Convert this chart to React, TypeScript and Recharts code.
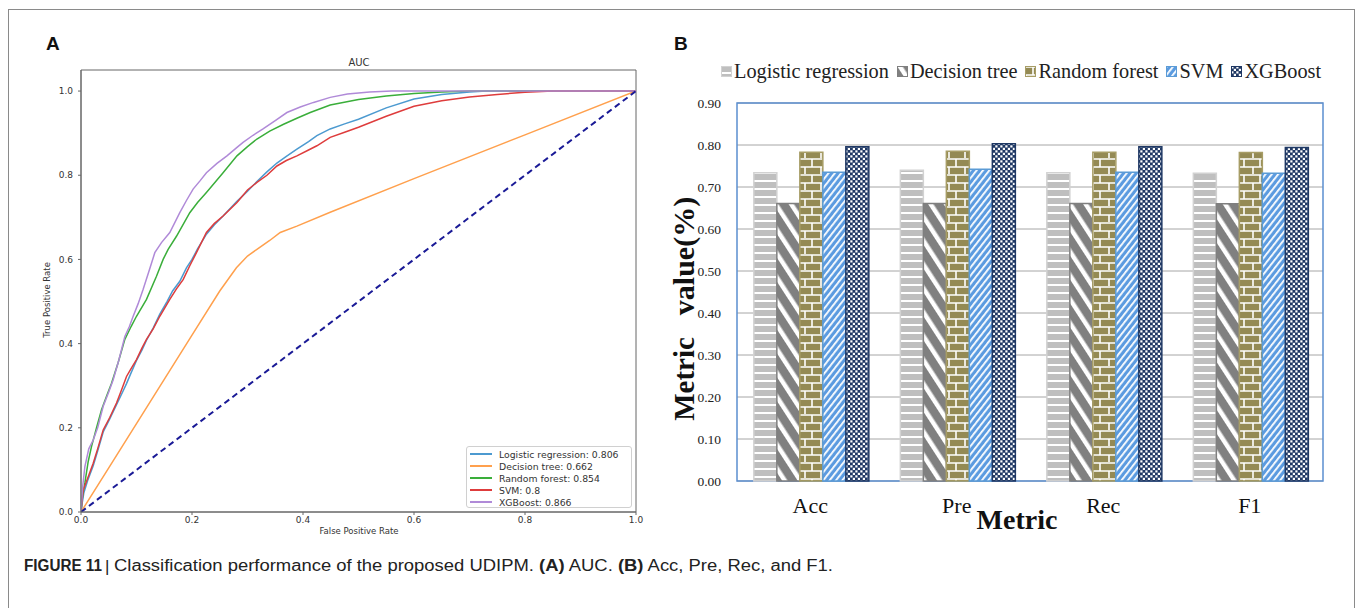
import React from 'react';
import { LineChart, Line, XAxis, YAxis, ReferenceArea, Legend, BarChart, Bar, CartesianGrid } from 'recharts';

// ---------- Panel A: ROC curves (fpr, tpr) ----------
const rocLogistic = [
  { fpr: 0, tpr: 0 }, { fpr: 0.002, tpr: 0.02 }, { fpr: 0.005, tpr: 0.045 }, { fpr: 0.012, tpr: 0.075 },
  { fpr: 0.022, tpr: 0.11 }, { fpr: 0.03, tpr: 0.145 }, { fpr: 0.04, tpr: 0.19 }, { fpr: 0.052, tpr: 0.222 },
  { fpr: 0.064, tpr: 0.255 }, { fpr: 0.075, tpr: 0.285 }, { fpr: 0.082, tpr: 0.305 }, { fpr: 0.09, tpr: 0.33 },
  { fpr: 0.1, tpr: 0.36 }, { fpr: 0.11, tpr: 0.385 }, { fpr: 0.118, tpr: 0.408 }, { fpr: 0.13, tpr: 0.437 },
  { fpr: 0.142, tpr: 0.47 }, { fpr: 0.155, tpr: 0.5 }, { fpr: 0.165, tpr: 0.525 }, { fpr: 0.178, tpr: 0.548 },
  { fpr: 0.19, tpr: 0.58 }, { fpr: 0.2, tpr: 0.6 }, { fpr: 0.21, tpr: 0.625 }, { fpr: 0.226, tpr: 0.66 },
  { fpr: 0.24, tpr: 0.682 }, { fpr: 0.256, tpr: 0.703 }, { fpr: 0.281, tpr: 0.738 }, { fpr: 0.3, tpr: 0.762 },
  { fpr: 0.317, tpr: 0.785 }, { fpr: 0.335, tpr: 0.808 }, { fpr: 0.353, tpr: 0.829 }, { fpr: 0.37, tpr: 0.845 },
  { fpr: 0.389, tpr: 0.862 }, { fpr: 0.41, tpr: 0.88 }, { fpr: 0.425, tpr: 0.894 }, { fpr: 0.449, tpr: 0.91 },
  { fpr: 0.475, tpr: 0.922 }, { fpr: 0.5, tpr: 0.933 }, { fpr: 0.55, tpr: 0.96 }, { fpr: 0.6, tpr: 0.981 },
  { fpr: 0.65, tpr: 0.992 }, { fpr: 0.7, tpr: 0.998 }, { fpr: 0.73, tpr: 1.0 }, { fpr: 1, tpr: 1 },
];
const rocTree = [
  { fpr: 0, tpr: 0 }, { fpr: 0.05, tpr: 0.105 }, { fpr: 0.1, tpr: 0.21 }, { fpr: 0.15, tpr: 0.315 },
  { fpr: 0.2, tpr: 0.42 }, { fpr: 0.25, tpr: 0.525 }, { fpr: 0.28, tpr: 0.58 }, { fpr: 0.3, tpr: 0.608 },
  { fpr: 0.317, tpr: 0.624 }, { fpr: 0.34, tpr: 0.645 }, { fpr: 0.359, tpr: 0.664 }, { fpr: 0.389, tpr: 0.679 },
  { fpr: 0.449, tpr: 0.712 }, { fpr: 0.6, tpr: 0.792 }, { fpr: 0.8, tpr: 0.896 }, { fpr: 1, tpr: 1 },
];
const rocForest = [
  { fpr: 0, tpr: 0 }, { fpr: 0.003, tpr: 0.04 }, { fpr: 0.007, tpr: 0.069 }, { fpr: 0.013, tpr: 0.12 },
  { fpr: 0.019, tpr: 0.156 }, { fpr: 0.028, tpr: 0.2 }, { fpr: 0.037, tpr: 0.243 }, { fpr: 0.046, tpr: 0.275 },
  { fpr: 0.055, tpr: 0.306 }, { fpr: 0.067, tpr: 0.355 }, { fpr: 0.079, tpr: 0.41 }, { fpr: 0.09, tpr: 0.44 },
  { fpr: 0.1, tpr: 0.465 }, { fpr: 0.118, tpr: 0.505 }, { fpr: 0.136, tpr: 0.56 }, { fpr: 0.148, tpr: 0.6 },
  { fpr: 0.157, tpr: 0.624 }, { fpr: 0.172, tpr: 0.655 }, { fpr: 0.196, tpr: 0.711 }, { fpr: 0.21, tpr: 0.735 },
  { fpr: 0.226, tpr: 0.759 }, { fpr: 0.256, tpr: 0.806 }, { fpr: 0.281, tpr: 0.846 }, { fpr: 0.3, tpr: 0.868 },
  { fpr: 0.317, tpr: 0.886 }, { fpr: 0.34, tpr: 0.905 }, { fpr: 0.365, tpr: 0.921 }, { fpr: 0.39, tpr: 0.936 },
  { fpr: 0.413, tpr: 0.949 }, { fpr: 0.449, tpr: 0.967 }, { fpr: 0.5, tpr: 0.98 }, { fpr: 0.55, tpr: 0.988 },
  { fpr: 0.6, tpr: 0.994 }, { fpr: 0.65, tpr: 0.998 }, { fpr: 0.7, tpr: 1.0 }, { fpr: 1, tpr: 1 },
];
const rocSvm = [
  { fpr: 0, tpr: 0 }, { fpr: 0.002, tpr: 0.03 }, { fpr: 0.004, tpr: 0.052 }, { fpr: 0.012, tpr: 0.08 },
  { fpr: 0.022, tpr: 0.116 }, { fpr: 0.03, tpr: 0.15 }, { fpr: 0.04, tpr: 0.195 }, { fpr: 0.052, tpr: 0.225 },
  { fpr: 0.064, tpr: 0.259 }, { fpr: 0.073, tpr: 0.29 }, { fpr: 0.082, tpr: 0.322 }, { fpr: 0.09, tpr: 0.34 },
  { fpr: 0.1, tpr: 0.362 }, { fpr: 0.11, tpr: 0.39 }, { fpr: 0.118, tpr: 0.41 }, { fpr: 0.13, tpr: 0.435 },
  { fpr: 0.142, tpr: 0.465 }, { fpr: 0.16, tpr: 0.505 }, { fpr: 0.172, tpr: 0.53 }, { fpr: 0.184, tpr: 0.552 },
  { fpr: 0.196, tpr: 0.585 }, { fpr: 0.208, tpr: 0.616 }, { fpr: 0.226, tpr: 0.664 }, { fpr: 0.24, tpr: 0.685 },
  { fpr: 0.256, tpr: 0.703 }, { fpr: 0.281, tpr: 0.735 }, { fpr: 0.3, tpr: 0.765 }, { fpr: 0.317, tpr: 0.783 },
  { fpr: 0.335, tpr: 0.8 }, { fpr: 0.353, tpr: 0.822 }, { fpr: 0.37, tpr: 0.835 }, { fpr: 0.389, tpr: 0.846 },
  { fpr: 0.41, tpr: 0.86 }, { fpr: 0.425, tpr: 0.87 }, { fpr: 0.449, tpr: 0.89 }, { fpr: 0.475, tpr: 0.902 },
  { fpr: 0.5, tpr: 0.914 }, { fpr: 0.55, tpr: 0.94 }, { fpr: 0.6, tpr: 0.964 }, { fpr: 0.65, tpr: 0.977 },
  { fpr: 0.7, tpr: 0.986 }, { fpr: 0.75, tpr: 0.992 }, { fpr: 0.8, tpr: 0.997 }, { fpr: 0.85, tpr: 1.0 },
  { fpr: 1, tpr: 1 },
];
const rocXgb = [
  { fpr: 0, tpr: 0 }, { fpr: 0.003, tpr: 0.06 }, { fpr: 0.007, tpr: 0.108 }, { fpr: 0.014, tpr: 0.15 },
  { fpr: 0.022, tpr: 0.171 }, { fpr: 0.03, tpr: 0.2 }, { fpr: 0.04, tpr: 0.251 }, { fpr: 0.05, tpr: 0.285 },
  { fpr: 0.058, tpr: 0.314 }, { fpr: 0.068, tpr: 0.36 }, { fpr: 0.079, tpr: 0.417 }, { fpr: 0.087, tpr: 0.44 },
  { fpr: 0.094, tpr: 0.465 }, { fpr: 0.103, tpr: 0.495 }, { fpr: 0.112, tpr: 0.529 }, { fpr: 0.122, tpr: 0.57 },
  { fpr: 0.133, tpr: 0.616 }, { fpr: 0.145, tpr: 0.64 }, { fpr: 0.16, tpr: 0.664 }, { fpr: 0.178, tpr: 0.711 },
  { fpr: 0.19, tpr: 0.74 }, { fpr: 0.202, tpr: 0.767 }, { fpr: 0.214, tpr: 0.786 }, { fpr: 0.226, tpr: 0.806 },
  { fpr: 0.245, tpr: 0.828 }, { fpr: 0.263, tpr: 0.846 }, { fpr: 0.28, tpr: 0.865 }, { fpr: 0.292, tpr: 0.878 },
  { fpr: 0.31, tpr: 0.895 }, { fpr: 0.328, tpr: 0.91 }, { fpr: 0.35, tpr: 0.93 }, { fpr: 0.371, tpr: 0.949 },
  { fpr: 0.395, tpr: 0.962 }, { fpr: 0.419, tpr: 0.973 }, { fpr: 0.449, tpr: 0.985 }, { fpr: 0.48, tpr: 0.993 },
  { fpr: 0.52, tpr: 0.998 }, { fpr: 0.56, tpr: 1.0 }, { fpr: 1, tpr: 1 },
];
const rocChance = [{ fpr: 0, tpr: 0 }, { fpr: 1, tpr: 1 }];
const rocTicks = [0, 0.2, 0.4, 0.6, 0.8, 1.0];
const rocLabels = ['Logistic regression: 0.806', 'Decision tree: 0.662', 'Random forest: 0.854', 'SVM: 0.8', 'XGBoost: 0.866'];

// ---------- Panel B: metric bars ----------
const metrics = ['Acc', 'Pre', 'Rec', 'F1'];
const logisticVals = [0.734, 0.740, 0.734, 0.733];
const treeVals = [0.661, 0.661, 0.661, 0.660];
const forestVals = [0.783, 0.785, 0.783, 0.782];
const svmVals = [0.735, 0.742, 0.735, 0.733];
const xgbVals = [0.796, 0.803, 0.796, 0.794];
const metricTicks = [0, 0.1, 0.2, 0.3, 0.4, 0.5, 0.6, 0.7, 0.8, 0.9];
const modelNames = ['Logistic regression', 'Decision tree', 'Random forest', 'SVM', 'XGBoost'];

const rocColors = ['#4c9ad0', '#ffa04d', '#3aae3a', '#de3c3c', '#b08ad8'];
const rocSeries = [rocLogistic, rocTree, rocForest, rocSvm, rocXgb].map((d, i) => ({
  data: d, name: rocLabels[i], color: rocColors[i], key: 'roc' + i,
}));

const barKeys = ['lr', 'dt', 'rf', 'svm', 'xgb'];
const barData = metrics.map((m, i) => ({
  metric: m, lr: logisticVals[i], dt: treeVals[i], rf: forestVals[i], svm: svmVals[i], xgb: xgbVals[i],
}));
const barFills = ['url(#patLR)', 'url(#patDT)', 'url(#patRF)', 'url(#patSVM)', 'url(#patXGB)'];
const barStrokes = ['#d2d2d2', '#7f7f7f', '#a79d66', '#5b9bd5', '#1f3864'];

const RocLegend = () => (
  <div style={{
    width: 166, height: 62, boxSizing: 'border-box', border: '1px solid #d0d0d0', borderRadius: 3,
    background: 'rgba(255,255,255,0.85)', paddingTop: 1, fontFamily: 'DejaVu Sans', fontSize: 9.3, color: '#333',
  }}>
    {rocSeries.map((s) => (
      <div key={s.key} style={{ display: 'flex', alignItems: 'center', height: 12 }}>
        <div style={{ width: 22, height: 1.5, background: s.color, marginLeft: 3, marginRight: 7 }} />
        <span style={{ whiteSpace: 'nowrap' }}>{s.name}</span>
      </div>
    ))}
  </div>
);

const BarLegend = () => (
  <div style={{ display: 'flex', alignItems: 'center', fontFamily: '"Liberation Serif", "Times New Roman", serif', fontSize: 20.3, color: '#222', whiteSpace: 'nowrap' }}>
    {modelNames.map((n, i) => (
      <div key={n} style={{ display: 'flex', alignItems: 'center', marginRight: 8 }}>
        <svg width={11} height={11} style={{ marginRight: 2 }}>
          <rect x={0.5} y={0.5} width={10} height={10} fill={barFills[i]} stroke={barStrokes[i]} strokeWidth={1} />
        </svg>
        <span>{n}</span>
      </div>
    ))}
  </div>
);

const Patterns = () => (
  <svg width={0} height={0} style={{ position: 'absolute', left: 0, top: 0 }}>
    <defs>
      <pattern id="patLR" patternUnits="userSpaceOnUse" width={8} height={8}>
        <rect width={8} height={8} fill="#bfbfbf" />
        <rect y={6} width={8} height={2} fill="#ffffff" />
      </pattern>
      <pattern id="patDT" patternUnits="userSpaceOnUse" width={13} height={13} patternTransform="rotate(-33)">
        <rect width={13} height={13} fill="#808080" />
        <rect width={4.5} height={13} fill="#ffffff" />
      </pattern>
      <pattern id="patRF" patternUnits="userSpaceOnUse" width={16} height={16}>
        <rect width={16} height={16} fill="#948a54" />
        <path d="M0 1 H16 M0 9 H16 M8 1 V9 M1 9 V16" stroke="#ffffff" strokeWidth={1.6} />
      </pattern>
      <pattern id="patSVM" patternUnits="userSpaceOnUse" width={5} height={5} patternTransform="rotate(38)">
        <rect width={5} height={5} fill="#5b9be0" />
        <rect width={1.8} height={5} fill="#ffffff" />
      </pattern>
      <pattern id="patXGB" patternUnits="userSpaceOnUse" width={5} height={5}>
        <rect width={5} height={5} fill="#1f3864" />
        <rect x={0.3} y={0.3} width={2.2} height={2.2} fill="#ffffff" />
        <rect x={2.8} y={2.8} width={2.2} height={2.2} fill="#ffffff" />
      </pattern>
    </defs>
  </svg>
);

const serif = '"Liberation Serif", "Times New Roman", serif';

export default function App() {
  return (
    <div style={{ position: 'absolute', left: 0, top: 0, width: 1357, height: 608, overflow: 'hidden', background: '#ffffff' }}>
      <Patterns />
      <div style={{ position: 'absolute', left: 8, top: 9, width: 1347, height: 700, boxSizing: 'border-box', border: '1.5px solid #8a8a8a' }} />

      {/* Panel A */}
      <div style={{ position: 'absolute', left: 0, top: 0 }}>
        <LineChart width={680} height={560} margin={{ top: 70, left: 51, right: 44, bottom: 28 }}>
          <XAxis type="number" dataKey="fpr" domain={[0, 1]} ticks={rocTicks} allowDataOverflow
            tickFormatter={(v: number) => v.toFixed(1)} height={20} tickSize={3} tickMargin={2}
            stroke="#666" tick={{ fontSize: 9, fill: '#333', fontFamily: 'DejaVu Sans' }} />
          <YAxis type="number" dataKey="tpr" domain={[0, 1.05]} ticks={rocTicks} allowDataOverflow
            tickFormatter={(v: number) => v.toFixed(1)} width={30} tickSize={3} tickMargin={5}
            stroke="#666" tick={{ fontSize: 9, fill: '#333', fontFamily: 'DejaVu Sans' }} />
          <ReferenceArea x1={0} x2={1} y1={0} y2={1.05} fill="none" stroke="#666" strokeWidth={1} ifOverflow="visible" />
          {rocSeries.map((s) => (
            <Line key={s.key} data={s.data} dataKey="tpr" name={s.name} type="linear" stroke={s.color}
              strokeWidth={1.5} dot={false} activeDot={false} isAnimationActive={false} />
          ))}
          <Line data={rocChance} dataKey="tpr" name="chance" type="linear" stroke="#1a1a96" strokeWidth={2}
            strokeDasharray="6 4" dot={false} activeDot={false} isAnimationActive={false} legendType="none" />
          <Legend layout="horizontal" verticalAlign="middle" align="center" content={<RocLegend />}
            wrapperStyle={{ left: 466, top: 446, width: 166, height: 62 }} />
        </LineChart>
      </div>

      {/* Panel B */}
      <div style={{ position: 'absolute', left: 660, top: 30 }}>
        <BarChart width={690} height={510} data={barData} margin={{ top: 73, right: 27, bottom: 19, left: 37 }}
          barCategoryGap="11.5%" barGap={0}>
          <CartesianGrid vertical={false} stroke="#a6a6a6" strokeWidth={1} />
          <XAxis dataKey="metric" height={40} axisLine={false} tickLine={false} tickSize={0} tickMargin={16}
            tick={{ fontSize: 22, fill: '#111', fontFamily: serif }} />
          <YAxis domain={[0, 0.9]} ticks={metricTicks} width={40} axisLine={false} tickLine={false}
            tickSize={6} tickMargin={10} tickFormatter={(v: number) => v.toFixed(2)}
            tick={{ fontSize: 13.5, fill: '#222', fontFamily: serif }} />
          {barKeys.map((k, i) => (
            <Bar key={k} dataKey={k} name={modelNames[i]} fill={barFills[i]} stroke={barStrokes[i]}
              strokeWidth={1.5} isAnimationActive={false} />
          ))}
          <ReferenceArea y1={0} y2={0.9} fill="none" stroke="#5b8fd0" strokeWidth={1.5} ifOverflow="visible" />
          <Legend layout="horizontal" verticalAlign="middle" align="center" content={<BarLegend />}
            wrapperStyle={{ left: 61, top: 30, width: 640, height: 24 }} />
        </BarChart>
      </div>

      {/* titles & caption */}
      <svg width={1357} height={608} style={{ position: 'absolute', left: 0, top: 0, pointerEvents: 'none' }}>
        <text x={46} y={50} fontFamily="Liberation Sans, Arial, sans-serif" fontWeight="bold" fontSize={19} fill="#111">A</text>
        <text x={674} y={50} fontFamily="Liberation Sans, Arial, sans-serif" fontWeight="bold" fontSize={19} fill="#111">B</text>
        <text x={359} y={66} textAnchor="middle" fontFamily="DejaVu Sans" fontSize={10} fill="#333">AUC</text>
        <text x={359} y={534} textAnchor="middle" fontFamily="DejaVu Sans" fontSize={8.5} fill="#333">False Positive Rate</text>
        <text x={50} y={300} textAnchor="middle" fontFamily="DejaVu Sans" fontSize={8.5} fill="#333"
          transform="rotate(-90 50 300)">True Positive Rate</text>
        <text x={1017} y={529} textAnchor="middle" fontFamily={serif} fontWeight="bold" fontSize={28} fill="#111">Metric</text>
        <text x={694} y={379} textAnchor="middle" fontFamily={serif} fontWeight="bold" fontSize={29} fill="#111"
          transform="rotate(-90 694 379)">Metric</text>
        <text x={694} y={256} textAnchor="middle" fontFamily={serif} fontWeight="bold" fontSize={30} fill="#111"
          transform="rotate(-90 694 256)">value(%)</text>
        <text x={24} y={571} fontFamily="Liberation Sans, Arial, sans-serif" fontWeight="bold" fontSize={16} fill="#222"
          textLength={78} lengthAdjust="spacingAndGlyphs">FIGURE 11</text>
        <text x={105} y={572} fontFamily="Liberation Sans, Arial, sans-serif" fontSize={17} fill="#222">|</text>
        <text x={114} y={571} fontFamily="Liberation Sans, Arial, sans-serif" fontSize={16} fill="#222"
          textLength={719} lengthAdjust="spacingAndGlyphs">
          Classification performance of the proposed UDIPM. <tspan fontWeight="bold">(A)</tspan> AUC. <tspan fontWeight="bold">(B)</tspan> Acc, Pre, Rec, and F1.
        </text>
      </svg>
    </div>
  );
}
